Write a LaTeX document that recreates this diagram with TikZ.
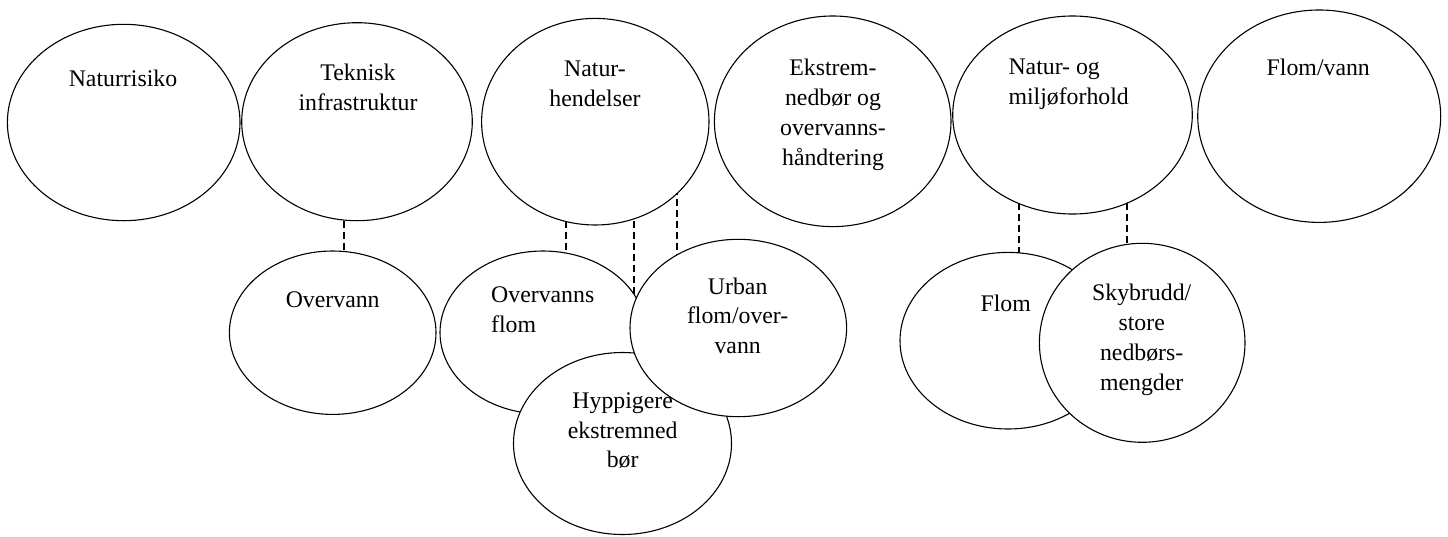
\documentclass[tikz,border=0pt]{standalone}
\usepackage{fontspec}
\setmainfont{Liberation Serif}
\usetikzlibrary{shapes.geometric,backgrounds}
\tikzset{
  bubble/.style={ellipse, draw, fill=white, line width=1.1pt, inner sep=0pt},
  label/.style={inner sep=0pt, anchor=north, align=center,
    font=\fontsize{23.8}{29.7}\selectfont, execute at begin node=\strut},
  labelleft/.style={label, anchor=north west, align=left},
  dashlink/.style={line width=2pt, dash pattern=on 7pt off 4pt}
}
% first baseline sits 0.7*29.7 = 20.79 below the label's north edge
\newcommand{\bl}[1]{#1-20.79}
\begin{document}
\begin{tikzpicture}[x=1pt,y=-1pt]
\useasboundingbox (0,0) rectangle (1448,536);

% upper row
\node[bubble, minimum width=232.6pt, minimum height=196.4pt] (nr) at (123.7,122.5) {};
\node[bubble, minimum width=230.6pt, minimum height=198pt] (tek) at (357,121.7) {};
\node[bubble, minimum width=227.4pt, minimum height=206.6pt] (nh) at (595.3,121.7) {};
\node[bubble, minimum width=236.6pt, minimum height=210.6pt] (ek) at (832.7,121.3) {};
\node[bubble, minimum width=239.6pt, minimum height=198pt] (nm) at (1072.5,115) {};
\node[bubble, minimum width=243pt, minimum height=212.4pt] (fv) at (1319.2,116.2) {};

\node[label] (tnr) at (123,\bl{86}) {Naturrisiko};
\node[label] (ttek) at (358,\bl{85}) {Teknisk\\infrastruktur};
\node[label] (tnh) at (595,\bl{81.7}) {Natur-\\hendelser};
\node[label] (tek2) at (833,\bl{80}) {Ekstrem-\\nedbør og\\overvanns-\\håndtering};
\node[labelleft] (tnm) at (1008.3,\bl{80}) {Natur- og\\miljøforhold};
\node[label] (tfv) at (1318.3,\bl{75}) {Flom/vann};

% lower row
\node[bubble, minimum width=206.6pt, minimum height=163.4pt] (ov) at (332.7,332.7) {};
\node[bubble, minimum width=206pt, minimum height=163pt] (of) at (543,332.5) {};
\node[bubble, minimum width=218pt, minimum height=182pt] (hy) at (622.5,443.5) {};
\node[bubble, minimum width=216.6pt, minimum height=177.4pt] (ub) at (738.3,328) {};
\node[bubble, minimum width=216pt, minimum height=176.6pt] (fl) at (1008,340.7) {};
\node[bubble, minimum width=205.6pt, minimum height=199pt] (sb) at (1142.2,342.8) {};

\node[label] (tov) at (332.7,\bl{307.3}) {Overvann};
\node[labelleft] (tof) at (491,\bl{307.3}) {Overvanns\\flom};
\node[label] (thy) at (622.7,\bl{413.3}) {Hyppigere\\ekstremned\\bør};
\node[label] (tub) at (737.7,\bl{298.3}) {Urban\\flom/over-\\vann};
\node[label] (tfl) at (1005.7,\bl{311.7}) {Flom};
\node[label] (tsb) at (1141.7,\bl{305}) {Skybrudd/\\store\\nedbørs-\\mengder};

% dashed links run behind the bubbles
\begin{pgfonlayer}{background}
\draw[dashlink] ([xshift=-13.5pt]tek.center) -- ([xshift=10.8pt]ov.center);
\draw[dashlink] ([xshift=-29.3pt]nh.center) -- ([xshift=23pt]of.center);
\draw[dashlink] ([xshift=38.7pt]nh.center) -- ([xshift=11.5pt]hy.center);
\draw[dashlink] ([xshift=81.2pt]nh.center) -- ([xshift=-61.8pt]ub.center);
\draw[dashlink] ([xshift=-54pt]nm.center) -- ([xshift=10.5pt]fl.center);
\draw[dashlink] ([xshift=54pt]nm.center) -- ([xshift=-15.7pt]sb.center);
\end{pgfonlayer}
\end{tikzpicture}
\end{document}
